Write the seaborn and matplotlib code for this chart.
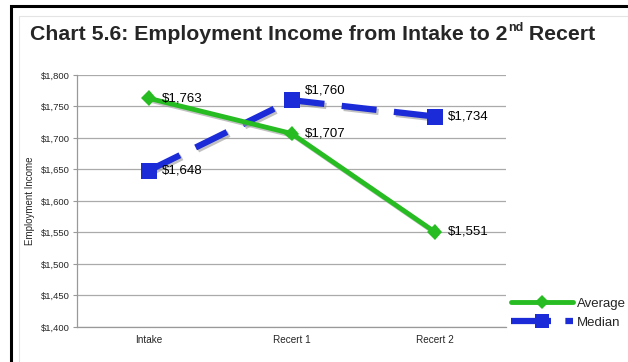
import matplotlib
matplotlib.use("Agg")
import matplotlib.pyplot as plt
import matplotlib.patheffects as pe
from matplotlib.lines import Line2D
from matplotlib.patches import Rectangle
import seaborn as sns
import pandas as pd

# Data
stages = ["Intake", "Recert 1", "Recert 2"]
average_income = [1763, 1707, 1551]
median_income = [1648, 1760, 1734]
y_ticks = [1400, 1450, 1500, 1550, 1600, 1650, 1700, 1750, 1800]

GREEN = "#27bd22"
BLUE = "#1b2bd8"

sns.set_theme(style="white")
plt.rcParams["font.family"] = ["Liberation Sans", "DejaVu Sans"]

df = pd.DataFrame({
    "Stage": stages * 2,
    "Income": average_income + median_income,
    "Series": ["Average"] * 3 + ["Median"] * 3,
})

fig = plt.figure(figsize=(6.28, 3.62), dpi=100)
ax = fig.add_axes([0.1226, 0.0967, 0.6834, 0.6963])

shadow = [pe.SimpleLineShadow(offset=(1.5, -1.5), shadow_color="#999999", alpha=0.6), pe.Normal()]

sns.lineplot(data=df[df.Series == "Average"], x="Stage", y="Income", ax=ax,
             color=GREEN, lw=3.5, marker="D", markersize=8, markeredgewidth=0,
             legend=False, path_effects=shadow, zorder=4)
sns.lineplot(data=df[df.Series == "Median"], x="Stage", y="Income", ax=ax,
             color=BLUE, lw=4.5, marker="s", markersize=11.5, markeredgewidth=0,
             legend=False, path_effects=shadow, zorder=3)
ax.lines[1].set_dashes([5.6, 2.8])
ax.lines[1].set_dash_capstyle("butt")

# Value labels
label_lift = {("Median", 1): 7}
for name, vals in (("Average", average_income), ("Median", median_income)):
    for i, v in enumerate(vals):
        ax.annotate(f"${v:,}", (i, v), xytext=(9.5, label_lift.get((name, i), 0)),
                    textcoords="offset points", ha="left", va="center",
                    fontsize=9.5, color="black", zorder=6)

ax.set_xlim(-0.5, 2.5)
ax.set_ylim(1400, 1800)
ax.set_yticks(y_ticks)
ax.set_yticklabels([f"${t:,}" for t in y_ticks], fontsize=6.8)
ax.set_xticks(range(3))
ax.set_xticklabels(stages, fontsize=7.2)
ax.set_xticks([-0.5, 0.5, 1.5, 2.5], minor=True)
ax.tick_params(axis="x", which="major", length=0, pad=6)
ax.tick_params(axis="x", which="minor", length=3, color="#999999", width=0.8)
ax.tick_params(axis="y", length=3, color="#999999", width=0.8, left=True, pad=2)
ax.set_xlabel("")
ax.set_ylabel("Employment Income", fontsize=7, labelpad=4)
ax.grid(axis="y", color="#aaaaaa", lw=0.9)
ax.set_axisbelow(True)
for side in ("top", "right"):
    ax.spines[side].set_visible(False)
for side in ("left", "bottom"):
    ax.spines[side].set_color("#999999")
    ax.spines[side].set_linewidth(0.9)

# Legend
handles = [
    Line2D([], [], color=GREEN, lw=3.5, marker="D", markersize=7, markeredgewidth=0),
    Line2D([], [], color=BLUE, lw=4.5, marker="s", markersize=10, markeredgewidth=0,
           dashes=[6.4, 2.3]),
]
fig.legend(handles, ["Average", "Median"], loc="center left",
           bbox_to_anchor=(0.803, 0.135), frameon=False, fontsize=9.5,
           handlelength=4.7, handletextpad=0.3, labelspacing=0.5, borderpad=0)

# Frame around the figure
fig.patches.append(Rectangle((11 / 628, -0.1), 1.2, 1 - 6 / 362 + 0.1,
                             transform=fig.transFigure, fill=False,
                             edgecolor="black", lw=2.2))
fig.patches.append(Rectangle((19 / 628, -0.1), 1.2, 1 - 16 / 362 + 0.1,
                             transform=fig.transFigure, fill=False,
                             edgecolor="#e4e4e4", lw=0.8))

# Title with superscript ordinal
fig.canvas.draw()
renderer = fig.canvas.get_renderer()
title_y = 1 - 40 / 362
t1 = fig.text(30 / 628, title_y, "Chart 5.6: Employment Income from Intake to 2",
              fontsize=15.3, fontweight="bold", va="baseline")
bb = t1.get_window_extent(renderer)
t2 = fig.text(bb.x1 / 628 + 0.001, title_y + 9 / 362, "nd",
              fontsize=9, fontweight="bold", va="baseline")
bb2 = t2.get_window_extent(renderer)
fig.text(bb2.x1 / 628, title_y, " Recert",
         fontsize=15.3, fontweight="bold", va="baseline")

fig.savefig("out.png", dpi=100)
